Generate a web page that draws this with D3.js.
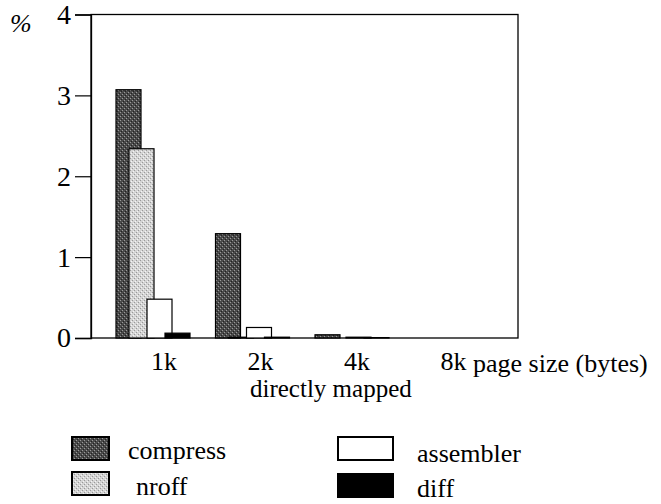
<!DOCTYPE html>
<html>
<head>
<meta charset="utf-8">
<script src="https://cdn.jsdelivr.net/npm/d3@7/dist/d3.min.js"></script>
<style>
  html, body { margin: 0; padding: 0; background: #fff; }
  svg text { fill: #000; }
</style>
</head>
<body>
<svg id="chart" width="661" height="504"></svg>
<script>
// Page sizes on the x axis
const categories = ["1k", "2k", "4k", "8k"];
// Series: miss percentage per program
const seriesNames = ["compress", "nroff", "assembler", "diff"];
const compress  = [3.07, 1.29, 0.04, 0.0];
const nroff     = [2.34, 0.01, 0.0, 0.0];
const assembler = [0.48, 0.13, 0.01, 0.0];
const diff      = [0.06, 0.01, 0.005, 0.0];
const yTicks = [0, 1, 2, 3, 4];

const FONT = "'Liberation Serif', Tinos, 'Noto Serif', 'DejaVu Serif', 'Times New Roman', Times, serif";

const svg = d3.select("#chart").attr("font-family", FONT);
const defs = svg.append("defs");

// Halftone-like fills
function stipple(id, base, dot, dot2) {
  const p = defs.append("pattern").attr("id", id)
    .attr("width", 4).attr("height", 4).attr("patternUnits", "userSpaceOnUse");
  p.append("rect").attr("width", 4).attr("height", 4).attr("fill", base);
  p.append("rect").attr("x", 0).attr("y", 0).attr("width", 1).attr("height", 1).attr("fill", dot);
  p.append("rect").attr("x", 2).attr("y", 2).attr("width", 1).attr("height", 1).attr("fill", dot);
  p.append("rect").attr("x", 1).attr("y", 3).attr("width", 1).attr("height", 1).attr("fill", dot2);
  p.append("rect").attr("x", 3).attr("y", 1).attr("width", 1).attr("height", 1).attr("fill", dot2);
}
stipple("pat-compress", "#4a4a4a", "#9a9a9a", "#222");
stipple("pat-nroff", "#d4d4d4", "#999", "#f4f4f4");

const fills = {
  compress: "url(#pat-compress)",
  nroff: "url(#pat-nroff)",
  assembler: "#fff",
  diff: "#000"
};
const values = { compress, nroff, assembler, diff };

const plot = { left: 91, right: 518, top: 14.5, bottom: 338 };

const y = d3.scaleLinear().domain([0, 4]).range([plot.bottom, plot.top]);
// Bar groups
const xGroup = d3.scaleBand().domain(categories).range([116, 514]).paddingInner(0);
// Within-group offsets of each series' bar
const xSeries = d3.scaleOrdinal().domain(seriesNames).range([0, 13, 31, 49]);
const barW = 25;
// Category label positions
const xLabel = d3.scalePoint().domain(categories).range([163.5, 453]);

// Frame
svg.append("rect")
  .attr("x", plot.left).attr("y", plot.top)
  .attr("width", plot.right - plot.left).attr("height", plot.bottom - plot.top)
  .attr("fill", "none").attr("stroke", "#000").attr("stroke-width", 1.3);

// Bars
seriesNames.forEach(name => {
  svg.append("g").selectAll("rect")
    .data(categories.map((c, i) => ({ c, v: values[name][i] })))
    .join("rect")
    .attr("x", d => xGroup(d.c) + xSeries(name))
    .attr("y", d => y(d.v))
    .attr("width", barW)
    .attr("height", d => plot.bottom - y(d.v))
    .attr("fill", fills[name])
    .attr("stroke", "#000")
    .attr("stroke-width", 1.2);
});

// Y axis
const yAxis = d3.axisLeft(y).tickValues(yTicks).tickFormat(d3.format("d"))
  .tickSize(16).tickPadding(4);
const gy = svg.append("g").attr("transform", `translate(${plot.left},0)`).call(yAxis)
  .attr("font-family", FONT);
gy.select(".domain").attr("stroke", "#000").attr("stroke-width", 1.3);
gy.selectAll(".tick line").attr("stroke", "#000").attr("stroke-width", 1.2);
gy.selectAll(".tick text").attr("font-size", 28);

// X axis labels (no ticks)
const xAxis = d3.axisBottom(xLabel).tickSize(0).tickPadding(14);
const gx = svg.append("g").attr("transform", `translate(0,${plot.bottom})`).call(xAxis)
  .attr("font-family", FONT);
gx.select(".domain").remove();
gx.selectAll(".tick text").attr("font-size", 26);

const labels = svg.append("g");
labels.append("text").attr("x", 473).attr("y", 372)
  .attr("font-size", 26).text("page size (bytes)");
labels.append("text").attr("x", 250).attr("y", 397)
  .attr("font-size", 25).text("directly mapped");
labels.append("text").attr("x", 10).attr("y", 32)
  .attr("font-size", 26).attr("font-style", "italic").text("%");

// Legend
const legend = [
  { name: "compress",  sx: 72,  sy: 437, tx: 128, ty: 459 },
  { name: "nroff",     sx: 72,  sy: 472, tx: 136, ty: 495 },
  { name: "assembler", sx: 338, sy: 437, tx: 417, ty: 462 },
  { name: "diff",      sx: 338, sy: 474, tx: 417, ty: 497 }
];
const lg = svg.append("g").selectAll("g").data(legend).join("g");
lg.append("rect")
  .attr("x", d => d.sx).attr("y", d => d.sy)
  .attr("width", d => d.sx < 200 ? 37 : 55).attr("height", 23)
  .attr("fill", d => fills[d.name]).attr("stroke", "#000").attr("stroke-width", 2);
lg.append("text")
  .attr("x", d => d.tx).attr("y", d => d.ty)
  .attr("font-size", 26).text(d => d.name);
</script>
</body>
</html>
